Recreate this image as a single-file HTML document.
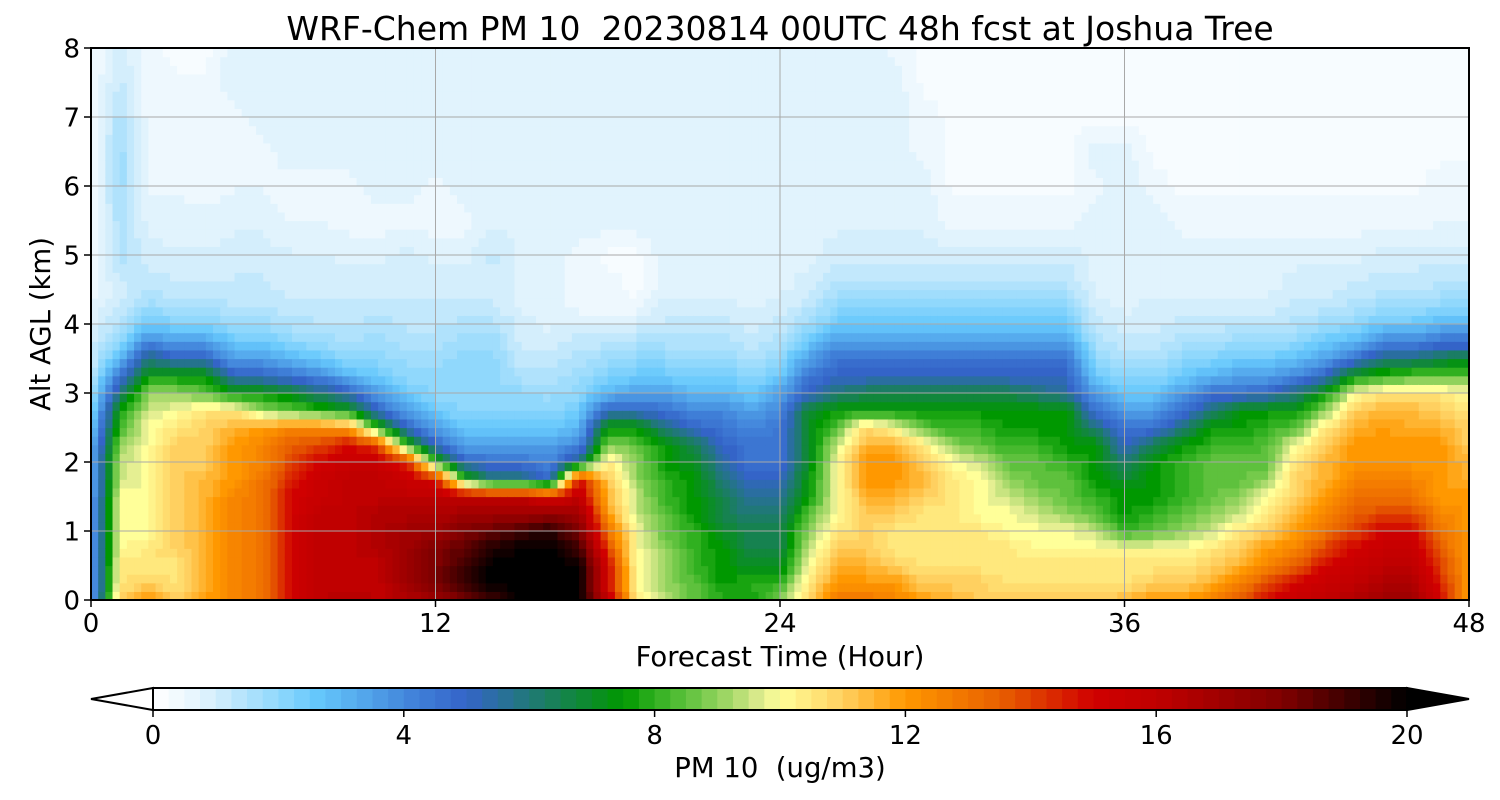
<!DOCTYPE html>
<html><head><meta charset="utf-8"><style>
html,body{margin:0;padding:0;background:#fff;}
svg{display:block;font-family:"DejaVu Sans","Liberation Sans",sans-serif;}
text{white-space:pre;}
</style></head><body>
<svg id="chart" width="1500" height="800" viewBox="0 0 1500 800">
<text x="780" y="40" font-size="33" text-anchor="middle" xml:space="preserve">WRF-Chem PM 10  20230814 00UTC 48h fcst at Joshua Tree</text>
<g id="heat"></g>
<g id="grid"></g>
<rect x="91" y="48" width="1378" height="552" fill="none" stroke="#000" stroke-width="2"/>
<g id="axes"></g>
<text x="780" y="666" font-size="27.5" text-anchor="middle">Forecast Time (Hour)</text>
<text transform="translate(50,324) rotate(-90)" font-size="27.5" text-anchor="middle">Alt AGL (km)</text>
<g id="cbar"></g>
<text x="780" y="777" font-size="27.5" text-anchor="middle" xml:space="preserve">PM 10  (ug/m3)</text>
</svg>
<script>
const hours=[];for(let i=0;i<=48;i++)hours.push(i);
const heights=[0,0.25,0.5,0.75,1,1.25,1.5,1.75,2,2.25,2.5,2.75,3,3.25,3.5,3.75,4,4.25,4.5,5,5.5,6,6.5,7,7.5,8];
const xTicks=[0,12,24,36,48];
const yTicks=[0,1,2,3,4,5,6,7,8];
const cbarTicks=[0,4,8,12,16,20];
const profiles=[
[3,3,3,3,3,3,3,3,3,3,2.5,2,1.5,1.2,1,1,0.8,0.6,0.5,0.4,0.3,0.3,0.3,0.3,0.3,0.3],
[11,10.5,10.5,10,10,10,10,9.5,9.5,9,8,7.5,6,4.5,3,2,1.5,1.2,1.0,1.5,1.5,1.8,1.8,1.5,1.2,1.0],
[12,11,10.5,10.5,10,10,10,10,10,10,10,9.5,9,7.5,6,4,2.5,1.8,1.3,1.0,0.8,0.6,0.5,0.5,0.5,0.4],
[11,10.5,10.5,11,11,11,11,11,11,11,10.5,10,9,7.5,5,3.5,2.2,1.6,1.2,0.9,0.7,0.6,0.5,0.4,0.4,0.3],
[12,11.5,11.5,11.5,11.5,11.5,11.5,11.5,11,11,11,10.5,8.5,7.5,5,3.5,2.2,1.6,1.2,0.9,0.7,0.5,0.4,0.4,0.4,0.3],
[12.5,12.5,12.5,12.5,12.5,12.5,12.5,12,12,12,11.5,10.5,7.5,5,3.5,2.5,1.8,1.4,1.2,1,0.8,0.6,0.5,0.5,0.8,0.8],
[13,13,13,13,13,13,13,13,12.5,12.5,12,9,7.5,5,3.5,2.5,1.8,1.4,1.2,1,0.8,0.6,0.5,0.8,0.8,0.8],
[15,15,15,15,15,15,15,14.5,14,13.5,12.5,8.5,7,4.5,3,2,1.5,1.2,1.0,0.9,0.6,0.5,0.8,0.8,0.8,0.8],
[16,16,16,16,16,16,15.5,15.5,15,14,12.5,8,6,4,2.5,1.8,1.4,1.2,1.0,0.9,0.6,0.5,0.8,0.8,0.8,0.8],
[16.5,16,16,16,16,16,16,16,15.5,15,12,7.5,5,3,2,1.6,1.3,1.2,1.0,0.8,0.5,0.5,0.8,0.8,0.8,0.8],
[16,16,16,16.5,16.5,16.5,16,16,15.5,14,8,5,3.5,2.5,2,1.8,1.5,1.3,1.0,0.8,0.5,0.8,0.8,0.8,0.8,0.8],
[16.5,17,17,17,17,16.5,16,15.5,14.5,8,5,3.5,2.5,2,1.8,1.5,1.3,1.2,1.0,1,0.5,0.8,0.8,0.8,0.8,0.8],
[17,18,18,18,17,16.5,16,15,8,5,3.5,2.5,2,2,1.8,1.5,1.3,1.2,1.0,0.8,0.5,0.5,0.8,0.8,0.8,0.8],
[18,19,19,18.5,18,17,16,8,5,3.5,2.5,2,2,2,2,1.8,1.5,1.2,1.0,0.8,0.5,0.8,0.8,0.8,0.8,0.8],
[19,20,20,19.5,18.5,17,16,6,4.5,3.5,2.5,2,2,2,2,1.8,1.5,1.2,1.0,1.2,0.8,0.8,0.8,0.8,0.8,0.8],
[20,20,20,20,19,17,16,6,4.5,3.5,2.5,2,2,1.5,1.2,1.0,1.0,0.8,0.8,0.8,0.8,0.8,0.8,0.8,0.8,0.8],
[20,20,20,20,19.5,17.5,15,5,4,3.5,2.5,2,1.8,1.5,1.2,1.0,0.8,0.8,0.8,0.8,0.8,0.8,0.8,0.8,0.8,0.8],
[20,20,20,19,18,17,16,15,6,4,3,2.5,2,1.8,1.5,1.2,1.0,0.5,0.5,0.5,0.8,0.8,0.8,0.8,0.8,0.8],
[16,15,15,14,13,12,11.5,11,10.5,9,7.5,5,3,2.2,1.8,1.3,0.8,0.5,0.5,0.3,0.8,0.8,0.8,0.8,0.8,0.8],
[10.5,10,10,10,10,9.5,9.5,9,9,8.5,7.5,5,3.5,2.5,2,1.5,1,0.5,0.3,0.3,0.8,0.8,0.8,0.8,0.8,0.8],
[9.5,9,9,9,8.5,8.5,8,8,7.5,7.5,6,4.5,3.5,2.5,2,1.5,1.2,1.0,0.8,0.8,0.8,0.8,0.8,0.8,0.8,0.8],
[8.5,8.5,8,8,8,7.5,7.5,7.5,7,6.5,5,4,3,2.2,1.8,1.5,1.2,1.0,0.8,0.8,0.8,0.8,0.8,0.8,0.8,0.8],
[8,7.5,7.5,7.5,7,6.5,6.5,6,5.5,5,4.5,4,3,2.5,2,1.5,1.2,1,0.8,0.8,0.8,0.8,0.8,0.8,0.8,0.8],
[7.5,8,7,6.5,6.5,6,5.5,5,4.5,4.5,4,3.5,2.5,2,1.5,1.2,1,0.8,0.8,0.8,0.8,0.8,0.8,0.8,0.8,0.8],
[9,8,7,6.5,6.5,6,5.5,5,4.5,4.5,4.5,4,3.5,2.5,2,1.5,1.2,1,0.8,0.8,0.8,0.8,0.8,0.8,0.8,0.8],
[11,10.5,10,9.5,9,8.5,7.5,7.5,7,7,7,7,5,4.5,3.5,2.5,1.8,1.3,1,0.8,0.8,0.8,0.8,0.8,0.8,0.8],
[13,12,11.5,11,10.5,10,10,10,10,9.5,8.5,7.5,6,5,4.5,3.5,2.5,2,1.5,1,0.8,0.8,0.8,0.8,0.8,0.8],
[13,12,11.5,11,11,11,11.5,12,12,11.5,11,7.5,6.5,5,4.5,3.5,2.5,2,1.5,1,0.8,0.8,0.8,0.8,0.8,0.8],
[12.5,12,11,10.5,10.5,11,11.5,12,12,11.5,10,7.5,6.5,5,4.5,3.5,2.5,2,1.5,1,0.8,0.8,0.8,0.8,0.8,0.5],
[12,11,10.5,10.5,10.5,10.5,11,11.5,11,10.5,8.5,7.5,6.5,5,4.5,3.5,2.5,2,1.5,1,0.8,0.8,0.5,0.5,0.3,0.3],
[11.5,11,10.5,10.5,10.5,10.5,10.5,10.5,10,9,8,7.5,6.5,5,4.5,3.5,2.5,2,1.5,1,0.5,0.3,0.3,0.3,0.3,0.3],
[11,11,10.5,10.5,10.5,10,10,10,9.5,8.5,8,7.5,6.5,5,4.5,3.5,2.5,2,1.5,1,0.5,0.3,0.3,0.3,0.3,0.3],
[11,10.5,10.5,10.5,10,10,9.5,9,8.5,8,7.5,7.5,6.5,5,4.5,3.5,2.5,2,1.5,1,0.5,0.3,0.3,0.3,0.3,0.3],
[11,10.5,10.5,10,10,9.5,9,8.5,8.5,8,7.5,7.5,6,5,4.5,3.5,2.5,2,1.5,1,0.5,0.3,0.3,0.3,0.3,0.3],
[11,10.5,10.5,10,10,9,8.5,8.5,8,7.5,7.5,7.5,5.5,5,4.5,3.5,2.5,2,1.5,1,0.5,0.3,0.3,0.3,0.3,0.3],
[11,10.5,10.5,10,9.5,8.5,8,7.5,7.5,7.5,6,4.5,3.5,2.5,2,1.5,1.2,1.0,0.8,0.8,0.8,0.5,0.8,0.3,0.3,0.3],
[11.5,10.5,10.5,10,8,7.5,7.5,7,6,5,4.5,3.5,2.5,2,1.5,1.2,1,0.8,0.8,0.8,0.8,0.8,0.8,0.3,0.3,0.3],
[12,11,10.5,10,8.5,8,7.5,7.5,7.5,6.5,4.5,3.5,2.5,2,1.5,1.2,1.0,1,0.8,0.8,0.8,0.5,0.3,0.3,0.3,0.3],
[12,11,10.5,10,9,8.5,8,8,8,7.5,6,4.5,3.5,2.5,2,1.5,1.2,1.0,0.8,0.8,0.5,0.3,0.3,0.3,0.3,0.3],
[12.5,11.5,11,10.5,9.5,9,8.5,8.5,8.5,8,7.5,6,4.5,3,2.2,1.6,1.2,1.0,0.8,0.8,0.5,0.3,0.3,0.3,0.3,0.3],
[13.5,12.5,11.5,11,10.5,9.5,9,8.5,8.5,8,7.5,7.5,4.5,3.5,2.5,1.8,1.3,1,0.8,0.8,0.5,0.3,0.3,0.3,0.3,0.3],
[15,14,12.5,12,11,10.5,10,9,8.5,8.5,8,7.5,5,3.5,2.5,1.8,1.3,1,0.8,0.8,0.5,0.3,0.3,0.3,0.3,0.3],
[15.5,15,13.5,12.5,12,11.5,11,11,10.5,10,8.5,7.5,6,4,2.8,2,1.5,1.2,1,0.8,0.5,0.3,0.3,0.3,0.3,0.3],
[16,15.5,15,14,13,12.5,12,11.5,11.5,11,10.5,9,7.5,5,3.5,2.5,1.8,1.3,1,0.8,0.5,0.3,0.3,0.3,0.3,0.3],
[16.5,16,15.5,15,14,13.5,13,12.5,12,12,11.5,11,10,7.5,4.5,3,2,1.5,1.2,0.8,0.5,0.3,0.3,0.3,0.3,0.3],
[17,16.5,16,15.5,15,14,13,12.5,12,12,12,11.5,10.5,8,6,4,2.5,1.8,1.3,1,0.5,0.3,0.3,0.3,0.3,0.3],
[17,16.5,16,15.5,15,14,13,12.5,12,12,11.5,11.5,10.5,8.5,6,4,2.5,1.8,1.3,1,0.5,0.3,0.3,0.3,0.3,0.3],
[15,14.5,14,13.5,13,12.5,12,12,12,12,11.5,11,10.5,8.5,6.5,4.5,3,2,1.5,1,0.6,0.5,0.3,0.3,0.3,0.3],
[12,12,12,12,12,12,12,11.5,11.5,11,11,10.5,10,8.5,7,4.5,3,2,1.5,1.0,0.6,0.5,0.3,0.3,0.3,0.3]
];
const stopV=[0,0.5,1,1.5,2,2.6,3.5,4.2,5,6,6.8,7.5,8,8.7,9.3,9.7,10,11,12,13.5,15,16,18,20];
const stopC=["#ffffff","#eef8fe","#d4eefc","#b0e2fc","#90d8fc","#66c8fc","#50a0e8","#4080d8","#3464c8","#207878","#108838","#009800","#30b020","#70c848","#b0dc70","#e0ec90","#ffff99","#ffd060","#ff9800","#e86000","#d00000","#c00000","#800000","#000000"];
const NS="http://www.w3.org/2000/svg";
const X0=91,X1=1469,Y0=600,Y1=48;
function xs(t){return X0+(t/48)*(X1-X0);}
function ys(h){return Y0-(h/8)*(Y0-Y1);}
function hex(c){return [parseInt(c.substr(1,2),16),parseInt(c.substr(3,2),16),parseInt(c.substr(5,2),16)];}
function cmap(v){
  if(v<=stopV[0])return stopC[0];
  for(let i=1;i<stopV.length;i++){
    if(v<=stopV[i]){const f=(v-stopV[i-1])/(stopV[i]-stopV[i-1]);const a=hex(stopC[i-1]),b=hex(stopC[i]);
      return "rgb("+a.map((q,k)=>Math.round(q+(b[k]-q)*f)).join(",")+")";}
  }
  return stopC[stopC.length-1];
}
function sample(t,h){
  let i=Math.min(Math.floor(t),hours.length-2);const ft=t-hours[i];
  let j=0;while(j<heights.length-2&&h>heights[j+1])j++;
  const fh=(h-heights[j])/(heights[j+1]-heights[j]);
  const a=profiles[i][j],b=profiles[i+1][j],c=profiles[i][j+1],d=profiles[i+1][j+1];
  return (a*(1-ft)+b*ft)*(1-fh)+(c*(1-ft)+d*ft)*fh;
}
const heat=document.getElementById('heat');
const dt=0.25,dh=0.125;
for(let t=0;t<48-1e-9;t+=dt){
  for(let h=0;h<8-1e-9;h+=dh){
    const v=sample(t+dt/2,h+dh/2);
    const r=document.createElementNS(NS,'rect');
    r.setAttribute('x',xs(t));r.setAttribute('y',ys(h+dh));
    r.setAttribute('width',xs(t+dt)-xs(t)+0.6);r.setAttribute('height',ys(h)-ys(h+dh)+0.6);
    r.setAttribute('fill',cmap(Math.round(v*4)/4));
    
    
    heat.appendChild(r);
  }
}
const grid=document.getElementById('grid'),axes=document.getElementById('axes');
function line(g,x1,y1,x2,y2,s,w,name){const l=document.createElementNS(NS,'line');l.setAttribute('x1',x1);l.setAttribute('y1',y1);l.setAttribute('x2',x2);l.setAttribute('y2',y2);l.setAttribute('stroke',s);l.setAttribute('stroke-width',w);


g.appendChild(l);}
function text(g,x,y,s,anchor,size,name){const e=document.createElementNS(NS,'text');e.setAttribute('x',x);e.setAttribute('y',y);e.setAttribute('text-anchor',anchor);e.setAttribute('font-size',size);e.textContent=s;


g.appendChild(e);}
xTicks.forEach(t=>{line(grid,xs(t),Y1,xs(t),Y0,'#a8a8a8',1,'x-gridline');line(axes,xs(t),Y0,xs(t),Y0+7,'#000',1.5,'x-tick');text(axes,xs(t),632,String(t),'middle',26,'x-tick-label');});
yTicks.forEach(h=>{line(grid,X0,ys(h),X1,ys(h),'#a8a8a8',1,'y-gridline');line(axes,X0-7,ys(h),X0,ys(h),'#000',1.5,'y-tick');text(axes,80,ys(h)+9.5,String(h),'end',26,'y-tick-label');});
const cbar=document.getElementById('cbar');
const CX0=153,CX1=1407,CY0=688,CY1=710;
const levels=[];for(let v=0;v<20;v+=0.25)levels.push(v);
function cx(v){return CX0+(v/20)*(CX1-CX0);}
levels.forEach(v=>{const r=document.createElementNS(NS,'rect');r.setAttribute('x',cx(v));r.setAttribute('y',CY0);r.setAttribute('width',cx(0.25)-cx(0)+0.5);r.setAttribute('height',CY1-CY0);r.setAttribute('fill',cmap(v+0.125));


cbar.appendChild(r);});
const tri1=document.createElementNS(NS,'polygon');tri1.setAttribute('points',`${CX0},${CY0} 91,${(CY0+CY1)/2} ${CX0},${CY1}`);tri1.setAttribute('fill','#fff');tri1.setAttribute('stroke','#000');tri1.setAttribute('stroke-width','2');


cbar.appendChild(tri1);
const tri2=document.createElementNS(NS,'polygon');tri2.setAttribute('points',`${CX1},${CY0} 1469,${(CY0+CY1)/2} ${CX1},${CY1}`);tri2.setAttribute('fill','#000');tri2.setAttribute('stroke','#000');tri2.setAttribute('stroke-width','2');


cbar.appendChild(tri2);
const fr=document.createElementNS(NS,'rect');fr.setAttribute('x',CX0);fr.setAttribute('y',CY0);fr.setAttribute('width',CX1-CX0);fr.setAttribute('height',CY1-CY0);fr.setAttribute('fill','none');fr.setAttribute('stroke','#000');fr.setAttribute('stroke-width','2');


cbar.appendChild(fr);
cbarTicks.forEach(v=>{line(cbar,cx(v),CY1,cx(v),CY1+7,'#000',1.5,'colorbar-tick');text(cbar,cx(v),744,String(v),'middle',26,'colorbar-tick-label');});
</script>
</body></html>
